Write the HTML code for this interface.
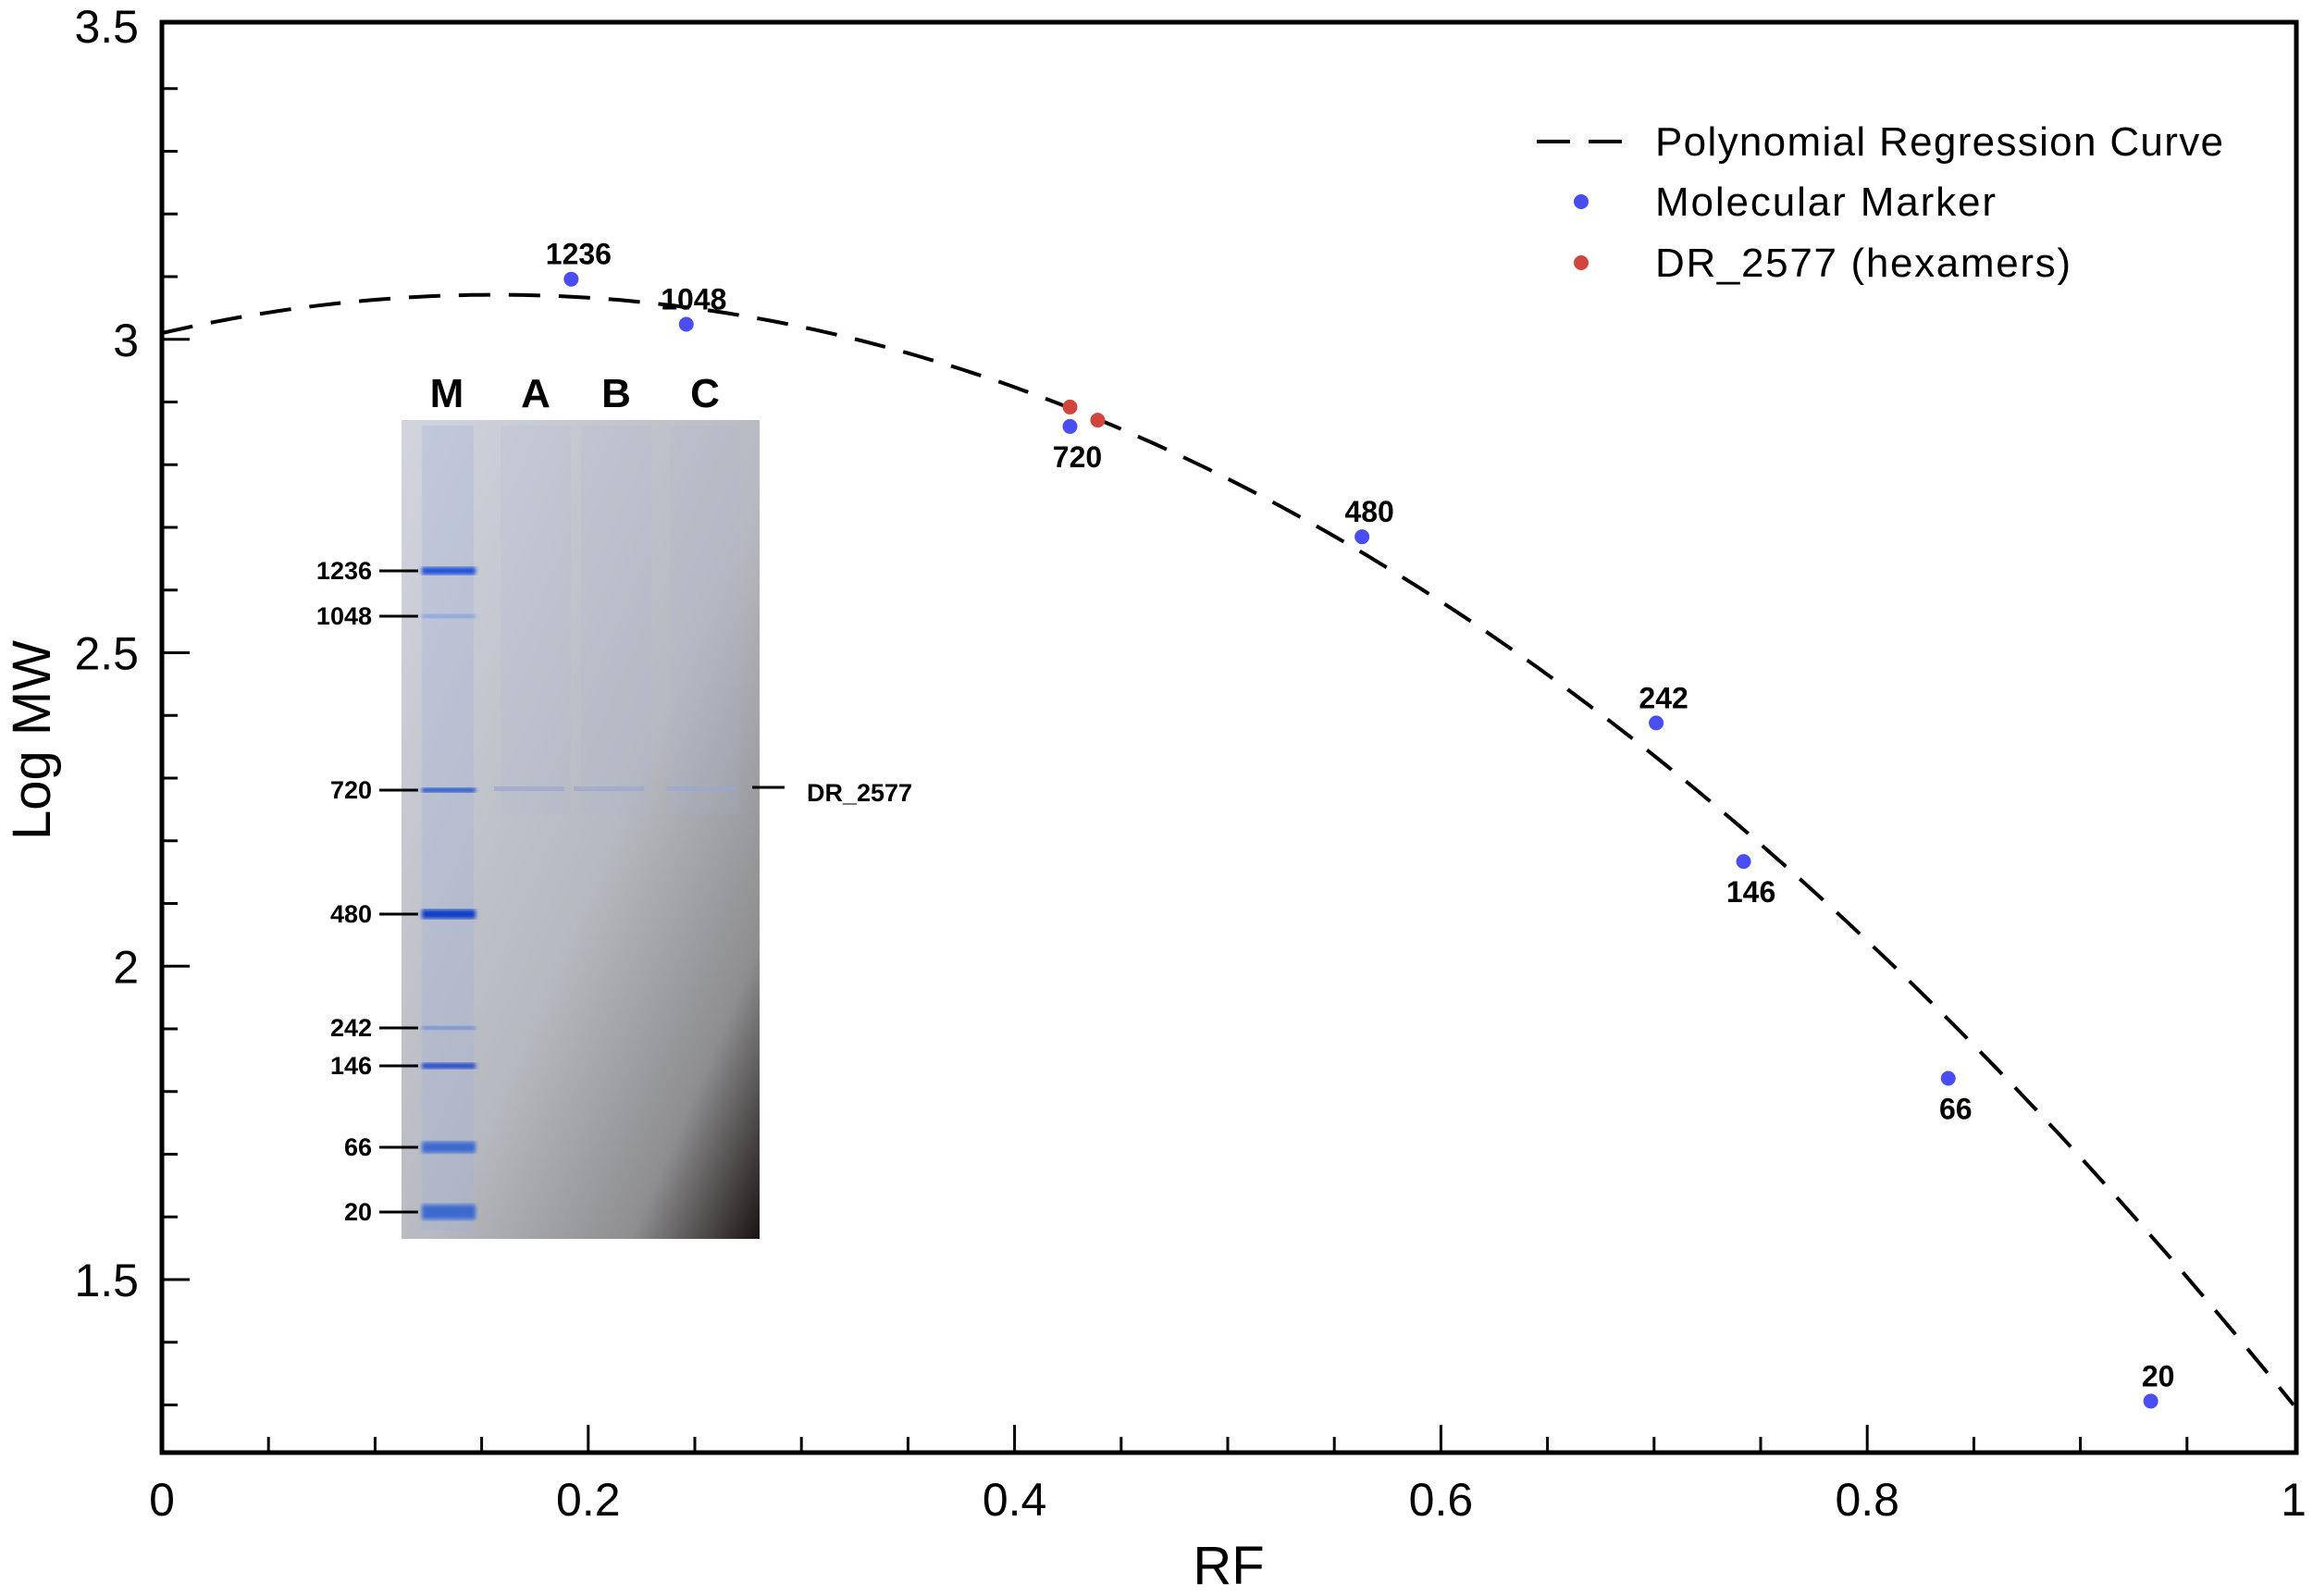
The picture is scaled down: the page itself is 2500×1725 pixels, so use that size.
<!DOCTYPE html>
<html><head><meta charset="utf-8"><style>
html,body{margin:0;padding:0;background:#fff;}
svg{display:block;font-family:"Liberation Sans",sans-serif;}
.gl{font-family:"Liberation Sans",sans-serif;font-weight:bold;}
</style></head><body>
<svg id="chart" width="2500" height="1725" viewBox="0 0 2500 1725" xmlns="http://www.w3.org/2000/svg">
<defs>
<linearGradient id="gelg" x1="0" y1="0" x2="1" y2="1">
<stop offset="0" stop-color="#d2d5de"/><stop offset="0.55" stop-color="#b7b9c0"/><stop offset="0.82" stop-color="#8e8e90"/><stop offset="1" stop-color="#1a1412"/>
</linearGradient>
<filter id="blur"><feGaussianBlur stdDeviation="2"/></filter>
</defs>
<g id="axes"></g>
<g id="gel"></g>
<g id="marks"></g>
<g id="legend">
<line x1="1661" y1="153" x2="1755" y2="153" stroke="#000" stroke-width="4" stroke-dasharray="36,20"/>
<text x="1789" y="168" font-size="44" textLength="614">Polynomial Regression Curve</text>
<circle cx="1709" cy="218" r="8" fill="#4a4ef0"/>
<text x="1789" y="233" font-size="44" textLength="368">Molecular Marker</text>
<circle cx="1709" cy="284" r="8" fill="#d0463c"/>
<text x="1789" y="299" font-size="44" textLength="449">DR_2577 (hexamers)</text>
</g>
</svg>
<script>
const markerLabels = ["1236","1048","720","480","242","146","66","20"];
const markerRF = [0.192,0.246,0.426,0.563,0.701,0.742,0.838,0.933];
const markerLogMW = [3.096,3.024,2.861,2.685,2.388,2.167,1.821,1.306];
const labelAbove = [true,true,false,true,true,false,false,true];
const sampleRF = [0.426,0.439];
const sampleLogMW = [2.892,2.871];
const curveCoef = [3.01,0.78,-2.49];
const xTickLabels = ["0","0.2","0.4","0.6","0.8","1"];
const yTickLabels = ["1.5","2","2.5","3","3.5"];
const gelLadder = ["1236","1048","720","480","242","146","66","20"];
const gelLadderY = [617,666,854,988,1111,1152,1240,1310];

const NS="http://www.w3.org/2000/svg";
const L=175,R=2479,T=24,B=1570;
const X=v=>L+v*(R-L);
const Y=v=>28+(3.5-v)*677.5;
function mk(p,tag,at){const e=document.createElementNS(NS,tag);for(const k in at)e.setAttribute(k,at[k]);p.appendChild(e);return e;}

const ax=document.getElementById('axes');
let fr=mk(ax,'rect',{x:L,y:T,width:2482-L,height:B-T,fill:'none',stroke:'#000','stroke-width':5});


for(let i=1;i<20;i++){const v=i*0.05;const maj=i%4===0;
 let t=mk(ax,'line',{x1:X(v),x2:X(v),y1:B,y2:B-(maj?30:17),stroke:'#000','stroke-width':3});
 
 }
xTickLabels.forEach(s=>{const v=parseFloat(s);
 let t=mk(ax,'text',{x:X(v),y:1638,'font-size':50,'text-anchor':'middle'});t.textContent=s;
 
 });
for(let i=13;i<35;i++){const v=i/10;const maj=i%5===0;
 let t=mk(ax,'line',{x1:L,x2:L+(maj?30:17),y1:Y(v),y2:Y(v),stroke:'#000','stroke-width':3});
 
 }
yTickLabels.forEach(s=>{const v=parseFloat(s);
 let t=mk(ax,'text',{x:150,y:Y(v)+18,'font-size':50,'text-anchor':'end'});t.textContent=s;
 
 });
let xt=mk(ax,'text',{x:1328,y:1712,'font-size':58,'text-anchor':'middle'});xt.textContent='RF';


let yt=mk(ax,'text',{x:0,y:0,'font-size':58,'text-anchor':'middle',transform:'translate(54,800) rotate(-90)'});yt.textContent='Log MW';



// gel inset
const g=document.getElementById('gel');
mk(g,'rect',{x:434,y:454,width:387,height:885,fill:'url(#gelg)'});
[579,666,762].forEach(cx=>mk(g,'rect',{x:cx-38,y:460,width:76,height:420,fill:'#aab3d6',opacity:0.15}));
mk(g,'rect',{x:456,y:460,width:56,height:870,fill:'#9fb0dc',opacity:0.3});
[534,620,720].forEach(x=>mk(g,'rect',{x:x,y:850,width:76,height:5,fill:'#9aa6d0',opacity:0.7}));
const bandW=[8,4,5,10,4,6,12,16];const bandC=['#1e4fd8','#7f9ee0','#1e50d0','#0f3cc8','#6d8ad6','#1a46c8','#3e6ad0','#3e6ad0'];
gelLadder.forEach((s,i)=>{const y=gelLadderY[i];
 let b=mk(g,'rect',{x:456,y:y-bandW[i]/2,width:58,height:bandW[i],fill:bandC[i],filter:'url(#blur)'});
 
 
 mk(g,'line',{x1:410,x2:452,y1:y,y2:y,stroke:'#000','stroke-width':3});
 let t=mk(g,'text',{x:402,y:y+9,'font-size':27,'text-anchor':'end',class:'gl'});t.textContent=s;
 
 });
[['M',483],['A',579],['B',666],['C',762]].forEach(([s,x])=>{
 let t=mk(g,'text',{x:x,y:440,'font-size':44,'text-anchor':'middle',class:'gl'});t.textContent=s;
 
 });
mk(g,'line',{x1:813,x2:848,y1:851,y2:851,stroke:'#000','stroke-width':3});
let dl=mk(g,'text',{x:872,y:866,'font-size':27,class:'gl'});dl.textContent='DR_2577';



// curve
const m=document.getElementById('marks');
let d='';for(let i=0;i<=200;i++){const x=i/200;const y=curveCoef[0]+curveCoef[1]*x+curveCoef[2]*x*x;d+=(i?'L':'M')+X(x).toFixed(1)+','+Y(y).toFixed(1);}
let c=mk(m,'path',{d:d,fill:'none',stroke:'#000','stroke-width':4,'stroke-dasharray':'34,20'});


markerRF.forEach((v,i)=>{
 let p=mk(m,'circle',{cx:X(v),cy:Y(markerLogMW[i]),r:8,fill:'#4a4ef0'});
 
 
 let t=mk(m,'text',{x:X(v)+8,y:Y(markerLogMW[i])+(labelAbove[i]?-16:44),'font-size':32,'text-anchor':'middle',class:'gl'});
 t.textContent=markerLabels[i];
 
 });
sampleRF.forEach((v,i)=>{
 let p=mk(m,'circle',{cx:X(v),cy:Y(sampleLogMW[i]),r:8,fill:'#d0463c'});
 
 });
</script>
</body></html>
